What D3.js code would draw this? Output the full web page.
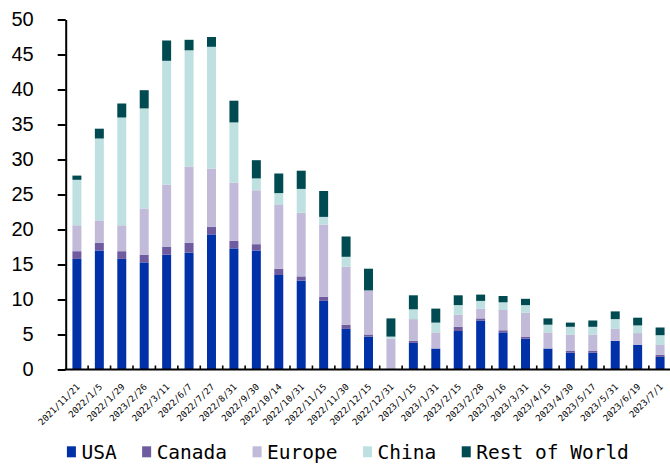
<!DOCTYPE html>
<html>
<head>
<meta charset="utf-8">
<script src="https://cdn.jsdelivr.net/npm/d3@7"></script>
<style>
  html, body { margin: 0; padding: 0; background: #fff; }
  svg { display: block; }
</style>
</head>
<body>
<svg id="chart" width="670" height="464"></svg>
<script>
// Report dates (x categories)
const categories = [
  "2021/11/21", "2022/1/5", "2022/1/29", "2023/2/26", "2022/3/11", "2022/6/7",
  "2022/7/27", "2022/8/31", "2022/9/30", "2022/10/14", "2022/10/31", "2022/11/15",
  "2022/11/30", "2022/12/15", "2022/12/31", "2023/1/15", "2023/1/31", "2023/2/15",
  "2023/2/28", "2023/3/16", "2023/3/31", "2023/4/15", "2023/4/30", "2023/5/17",
  "2023/5/31", "2023/6/19", "2023/7/1"
];

// Region values per date
const usa    = [15.8, 17.0, 15.8, 15.3, 16.4, 16.7, 19.3, 17.3, 17.0, 13.5, 12.7, 9.8, 5.8, 4.7, 0.0, 3.8, 3.0, 5.5, 7.0, 5.3, 4.4, 3.0, 2.4, 2.4, 4.1, 3.5, 1.8];
const canada = [1.1, 1.1, 1.1, 1.1, 1.1, 1.4, 1.1, 1.1, 0.9, 0.9, 0.6, 0.6, 0.6, 0.3, 0.0, 0.3, 0.0, 0.6, 0.3, 0.3, 0.3, 0.0, 0.3, 0.3, 0.0, 0.0, 0.3];
const europe = [3.7, 3.2, 3.7, 6.6, 8.9, 10.9, 8.3, 8.3, 7.7, 9.1, 9.1, 10.3, 8.3, 6.3, 4.4, 3.1, 2.3, 1.7, 1.4, 2.9, 3.4, 2.3, 2.3, 2.3, 1.7, 1.7, 1.4];
const china  = [6.5, 11.7, 15.4, 14.3, 17.7, 16.6, 17.4, 8.6, 1.7, 1.7, 3.4, 1.1, 1.4, 0.0, 0.3, 1.4, 1.4, 1.4, 1.1, 1.1, 1.1, 1.1, 1.1, 1.1, 1.4, 1.1, 1.4];
const rest   = [0.6, 1.4, 2.0, 2.6, 2.9, 1.5, 1.4, 3.1, 2.6, 2.8, 2.6, 3.7, 2.9, 3.1, 2.6, 2.0, 2.0, 1.4, 0.9, 0.9, 0.9, 0.9, 0.6, 0.9, 1.1, 1.1, 1.1];

const seriesNames = ["USA", "Canada", "Europe", "China", "Rest of World"];
const yTicks = [0, 5, 10, 15, 20, 25, 30, 35, 40, 45, 50];

const colors = {
  "USA": "#0031A9",
  "Canada": "#6F5B9F",
  "Europe": "#C1BAD8",
  "China": "#BEE0E0",
  "Rest of World": "#004A52"
};

const table = categories.map((c, i) => ({
  date: c,
  "USA": usa[i],
  "Canada": canada[i],
  "Europe": europe[i],
  "China": china[i],
  "Rest of World": rest[i]
}));

const svg = d3.select("#chart");

const x = d3.scaleBand()
  .domain(categories)
  .range([65.7, 671.3])
  .paddingInner(0.6)
  .paddingOuter(0.3);

const y = d3.scaleLinear()
  .domain([0, 50])
  .range([369.5, 19.5]);

const stacked = d3.stack().keys(seriesNames)(table);

// Stacked bars
svg.append("g")
  .selectAll("g")
  .data(stacked)
  .join("g")
  .attr("fill", d => colors[d.key])
  .selectAll("rect")
  .data(d => d)
  .join("rect")
  .attr("x", d => x(d.data.date))
  .attr("width", x.bandwidth())
  .attr("y", d => y(d[1]))
  .attr("height", d => Math.max(0, y(d[0]) - y(d[1])));

// Y axis
const yAxis = svg.append("g")
  .attr("transform", "translate(65.7,0)")
  .call(d3.axisLeft(y).tickValues(yTicks).tickSize(8).tickPadding(24).tickSizeOuter(0));
yAxis.select(".domain").attr("stroke", "#000").attr("stroke-width", 2);
yAxis.selectAll(".tick line").attr("stroke", "#000").attr("stroke-width", 2);
yAxis.selectAll(".tick text")
  .attr("fill", "#000")
  .style("font-family", "'Liberation Sans', Arial, sans-serif")
  .style("font-size", "20px");

// X axis line with small inner ticks between categories
const step = x.step();
const xg = svg.append("g");
xg.append("line")
  .attr("x1", 64.7).attr("x2", 670)
  .attr("y1", y(0)).attr("y2", y(0))
  .attr("stroke", "#000").attr("stroke-width", 2);
xg.selectAll("line.sep")
  .data(categories.slice(1))
  .join("line")
  .attr("class", "sep")
  .attr("x1", d => x(d) + x.bandwidth() / 2 - step / 2)
  .attr("x2", d => x(d) + x.bandwidth() / 2 - step / 2)
  .attr("y1", y(0))
  .attr("y2", y(0) - 4)
  .attr("stroke", "#000").attr("stroke-width", 1.6);

// Rotated date labels
xg.selectAll("text")
  .data(categories)
  .join("text")
  .attr("transform", d => `translate(${x(d) + x.bandwidth() / 2 + 3.5},${y(0) + 18}) rotate(-45)`)
  .attr("text-anchor", "end")
  .attr("fill", "#000")
  .style("font-family", "'DejaVu Sans Mono', monospace")
  .style("font-size", "9px")
  .text(d => d);

// Legend
const legend = svg.append("g").attr("transform", "translate(66.9,0)");
let lx = 0;
seriesNames.forEach(name => {
  const item = legend.append("g").attr("transform", `translate(${lx},0)`);
  item.append("rect")
    .attr("x", 0).attr("y", 446.3)
    .attr("width", 9).attr("height", 11)
    .attr("fill", colors[name]);
  const t = item.append("text")
    .attr("x", 14.5).attr("y", 458.7)
    .attr("fill", "#000")
    .style("font-family", "'DejaVu Sans Mono', monospace")
    .style("font-size", "19.5px")
    .text(name);
  lx += 14.5 + t.node().getComputedTextLength() + 25.5;
});
</script>
</body>
</html>
